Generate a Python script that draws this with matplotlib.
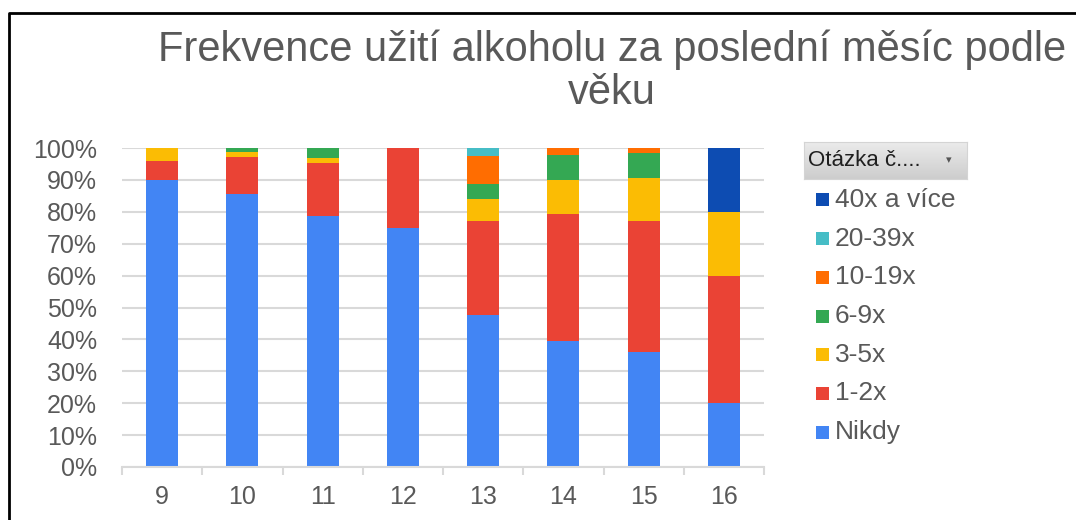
import matplotlib.pyplot as plt
from matplotlib.patches import Rectangle
from matplotlib.lines import Line2D
from matplotlib.ticker import FixedLocator, FuncFormatter
from matplotlib.colors import LinearSegmentedColormap
import numpy as np

plt.rcParams['font.family'] = ['Liberation Sans', 'DejaVu Sans']

ages = ["9", "10", "11", "12", "13", "14", "15", "16"]

# shares in percent, bottom to top
nikdy = [90.0, 85.7, 78.7, 75.0, 47.5, 39.6, 36.1, 20.0]
x_1_2 = [6.0, 11.5, 16.6, 25.0, 29.5, 39.7, 40.9, 40.0]
x_3_5 = [4.0, 1.7, 1.6, 0.0, 6.9, 10.8, 13.7, 20.0]
x_6_9 = [0.0, 1.1, 3.1, 0.0, 4.7, 7.7, 7.7, 0.0]
x_10_19 = [0.0, 0.0, 0.0, 0.0, 9.0, 2.2, 1.6, 0.0]
x_20_39 = [0.0, 0.0, 0.0, 0.0, 2.4, 0.0, 0.0, 0.0]
x_40 = [0.0, 0.0, 0.0, 0.0, 0.0, 0.0, 0.0, 20.0]

series = [
    ("Nikdy", nikdy, "#4285F4"),
    ("1-2x", x_1_2, "#EA4335"),
    ("3-5x", x_3_5, "#FBBC04"),
    ("6-9x", x_6_9, "#34A853"),
    ("10-19x", x_10_19, "#FF6D01"),
    ("20-39x", x_20_39, "#46BDC6"),
    ("40x a více", x_40, "#0D4CB2"),
]

TEXT_GRAY = "#595959"
GRID_GRAY = "#d9d9d9"

W, H = 1076, 520
fig = plt.figure(figsize=(W / 100, H / 100), dpi=100)
ax = fig.add_axes([122 / W, 1 - 467 / H, (764 - 122) / W, (467 - 148) / H])

x = np.arange(len(ages))
bottom = np.zeros(len(ages))
for name, vals, color in series:
    v = np.array(vals) / 100
    ax.bar(x, v, width=0.4, bottom=bottom, color=color, linewidth=0, zorder=2)
    bottom += v

ax.set_xlim(-0.5, len(ages) - 0.5)
ax.set_ylim(0, 1)
ax.yaxis.set_major_locator(FixedLocator(np.linspace(0, 1, 11)))
ax.yaxis.set_major_formatter(FuncFormatter(lambda v, p: f"{v:.0%}"))
ax.grid(axis="y", color=GRID_GRAY, linewidth=1.5, zorder=0)
ax.set_axisbelow(True)

ax.set_xticks(x)
ax.set_xticklabels(ages)
ax.set_xticks(np.arange(-0.5, len(ages)), minor=True)
ax.tick_params(axis="x", which="major", length=0, pad=13, labelsize=18,
               labelcolor=TEXT_GRAY)
ax.tick_params(axis="x", which="minor", length=6, width=1.5, color=GRID_GRAY)
ax.tick_params(axis="y", length=0, pad=18, labelsize=18, labelcolor=TEXT_GRAY)

for side in ["top", "right", "left"]:
    ax.spines[side].set_visible(False)
ax.spines["bottom"].set_color(GRID_GRAY)
ax.spines["bottom"].set_linewidth(1.5)

# title
fig.text(612 / W, 1 - 61 / H, "Frekvence užití alkoholu za poslední měsíc podle",
         ha="center", va="baseline", fontsize=30, color=TEXT_GRAY)
fig.text(612 / W, 1 - 104 / H, "věku", ha="center", va="baseline",
         fontsize=30, color=TEXT_GRAY)

# legend header box with a light gray gradient
hax = fig.add_axes([804 / W, 1 - 179 / H, (967 - 804) / W, (179 - 142) / H])
grad = LinearSegmentedColormap.from_list("hdr", ["#ebebeb", "#cdcdcd"])
hax.imshow(np.linspace(0, 1, 50).reshape(-1, 1), aspect="auto", cmap=grad,
           extent=(0, 1, 0, 1), origin="upper")
hax.set_xticks([])
hax.set_yticks([])
for s in hax.spines.values():
    s.set_color("#d4d4d4")
    s.set_linewidth(0.8)
fig.text(808 / W, 1 - 161 / H, "Otázka č....", ha="left", va="center",
         fontsize=16, color="#1f1f1f")
fig.text(949 / W, 1 - 160 / H, "▾", ha="center", va="center",
         fontsize=8, color="#555555", family="DejaVu Sans")

# legend entries, top to bottom
row_y = 200
for name, vals, color in reversed(series):
    sq = Rectangle((816 / W, 1 - (row_y + 6.5) / H), 13 / W, 13 / H,
                   transform=fig.transFigure, facecolor=color, linewidth=0)
    fig.patches.append(sq)
    fig.text(835 / W, 1 - row_y / H, name, ha="left", va="center",
             fontsize=19, color=TEXT_GRAY)
    row_y += 38.7

# outer frame (top and left edges)
fig.add_artist(Line2D([9 / W, 9 / W, 1.0], [0.0, 1 - 13 / H, 1 - 13 / H],
                      transform=fig.transFigure, color="black", linewidth=2))

fig.savefig("out.png", dpi=100)
